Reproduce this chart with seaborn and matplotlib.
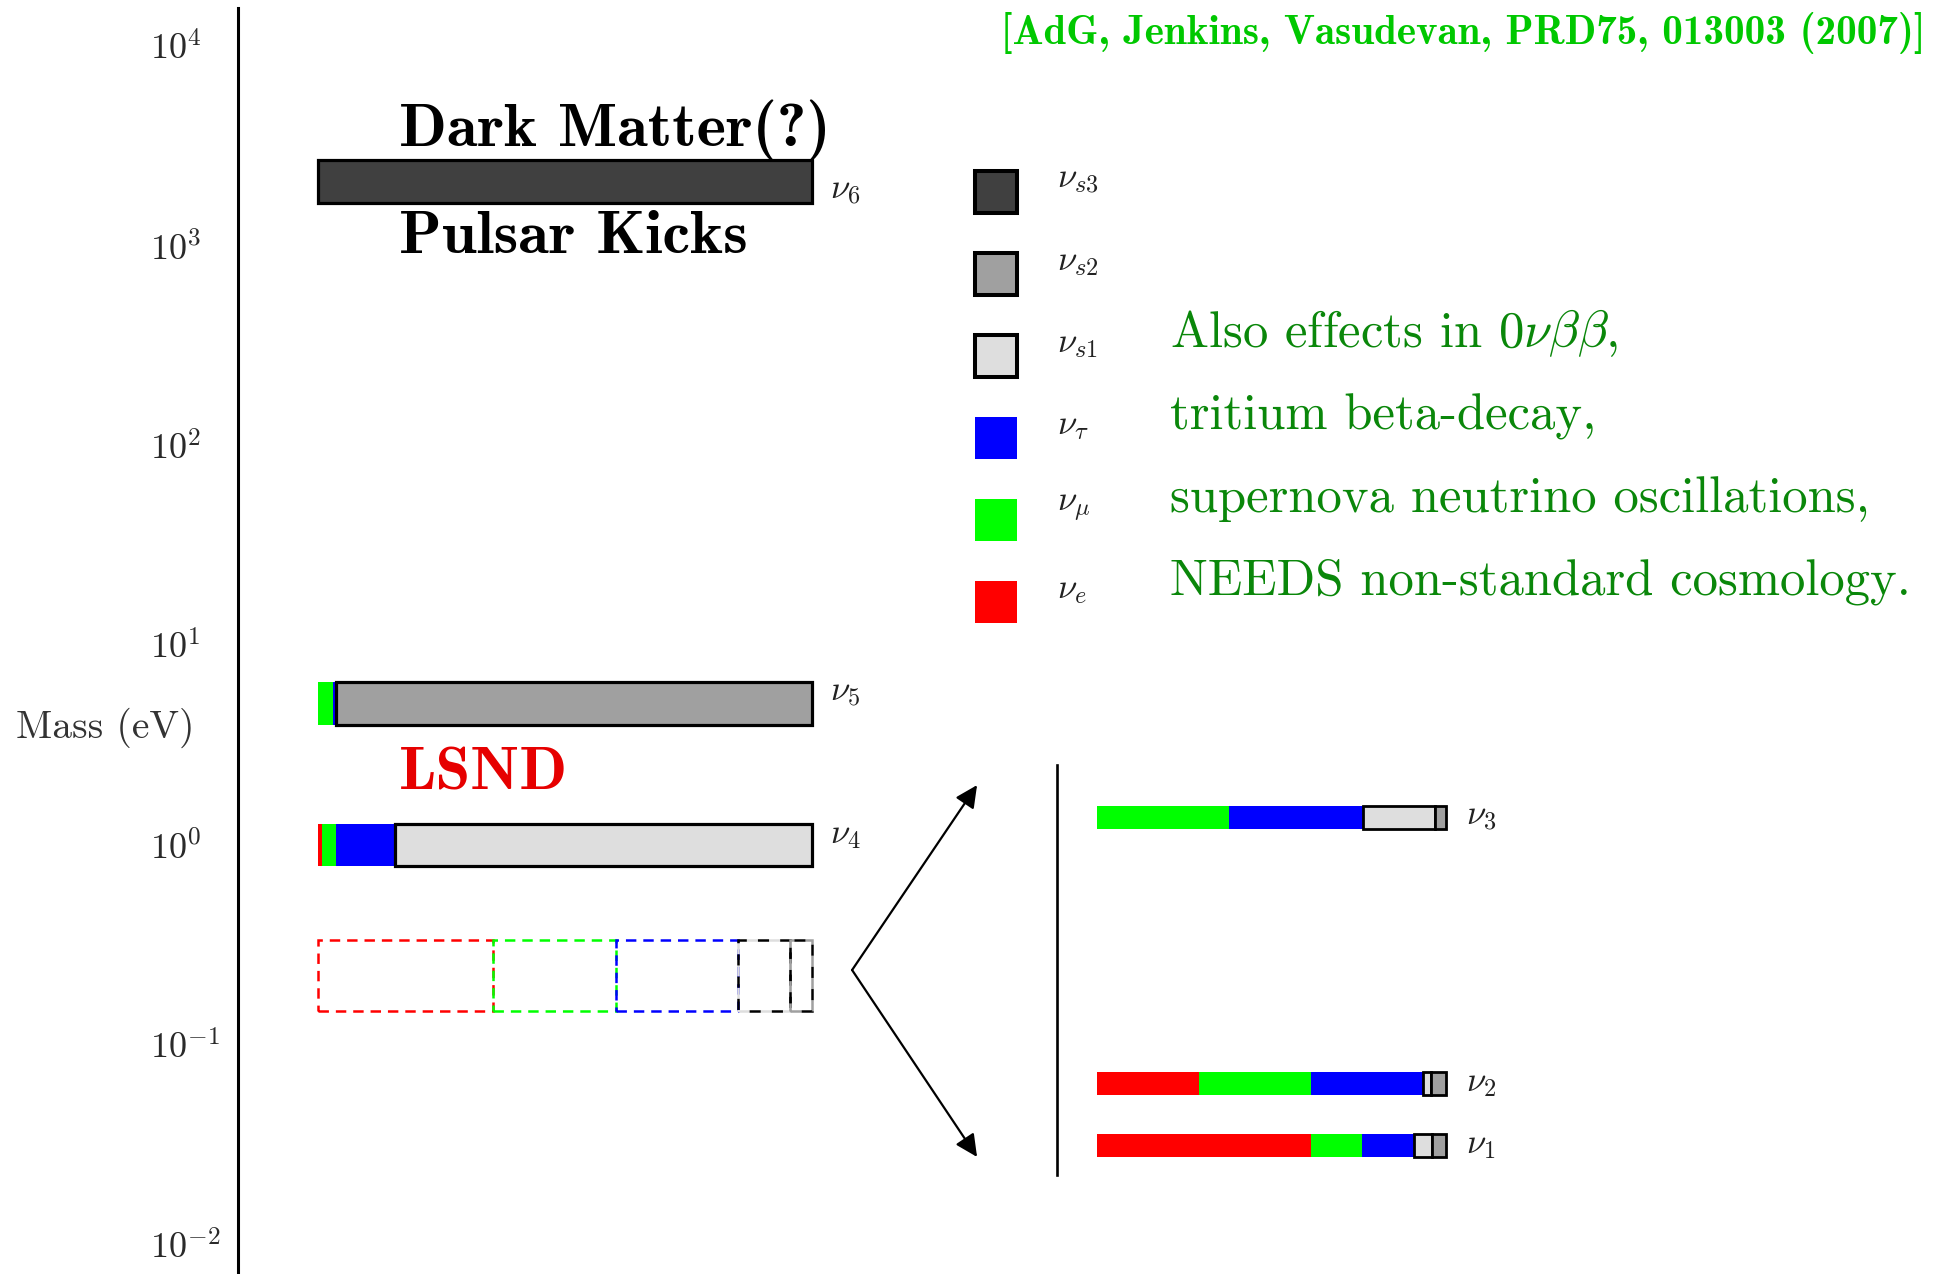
import numpy as np
import matplotlib
matplotlib.use("Agg")
import matplotlib.pyplot as plt
import seaborn as sns
from matplotlib.patches import Rectangle
from matplotlib.ticker import NullLocator

# ---------------- data ----------------
flavours = ["e", "mu", "tau", "s1", "s2", "s3"]
flavour_labels = [r"$\nu_e$", r"$\nu_\mu$", r"$\nu_\tau$", r"$\nu_{s1}$", r"$\nu_{s2}$", r"$\nu_{s3}$"]
flavour_colors = ["#ff0000", "#00ff00", "#0000ff", "#dedede", "#a0a0a0", "#404040"]

heavy_states = [r"$\nu_6$", r"$\nu_5$", r"$\nu_4$"]
heavy_mass_ev = [2100.0, 5.1, 1.0]
nu6_content = [0.0, 0.0, 0.0, 0.0, 0.0, 1.0]
nu5_content = [0.0, 0.030, 0.007, 0.0, 0.963, 0.0]
nu4_content = [0.008, 0.029, 0.118, 0.845, 0.0, 0.0]

light_group_mass_ev = 0.222
light_group_content = [0.355, 0.249, 0.247, 0.105, 0.044, 0.0]

light_states = [r"$\nu_1$", r"$\nu_2$", r"$\nu_3$"]
light_levels = [0.0, 1.0, 5.25]          # schematic mass-squared ordering
nu1_content = [0.613, 0.146, 0.148, 0.052, 0.041, 0.0]
nu2_content = [0.293, 0.321, 0.321, 0.021, 0.044, 0.0]
nu3_content = [0.0, 0.379, 0.383, 0.207, 0.031, 0.0]

tick_exponents = [-2, -1, 0, 1, 2, 3, 4]

notes = ["Also effects in $0\\nu\\beta\\beta$,", "tritium beta-decay,",
         "supernova neutrino oscillations,", "NEEDS non-standard cosmology."]
citation = "[AdG, Jenkins, Vasudevan, PRD75, 013003 (2007)]"

# ---------------- style ----------------
sns.set_theme(style="white")
plt.rcParams["font.family"] = ["cmr10", "DejaVu Sans"]
plt.rcParams["mathtext.fontset"] = "cm"
plt.rcParams["axes.formatter.use_mathtext"] = True
plt.rcParams["lines.scale_dashes"] = False

W, H = 1935, 1274
fig = plt.figure(figsize=(W / 100, H / 100), dpi=100)
fig.patch.set_facecolor("white")

def fx(px):
    return px / W

def fy(py):
    return 1 - py / H

# ---------------- main axis ----------------
ax = fig.add_axes([fx(238), 0, 1 - fx(238), 1])
ax.set_facecolor("white")
ax.set_yscale("log")
ax.set_ylim(10 ** -2.148, 10 ** 4.231)
ax.set_xlim(-0.162, 3.273)
for s in ["top", "right", "bottom"]:
    ax.spines[s].set_visible(False)
ax.spines["left"].set_linewidth(2.2)
ax.spines["left"].set_color("black")
ax.spines["left"].set_bounds(10 ** -2.148, 10 ** 4.19)
ax.set_xticks([])
ax.set_yticks(10.0 ** np.array(tick_exponents))
ax.set_yticklabels([r"$10^{%d}$" % e for e in tick_exponents])
ax.yaxis.set_minor_locator(NullLocator())
ax.tick_params(axis="y", length=0, pad=63.4, labelsize=26, labelcolor="#2a2a2a")
for t in ax.get_yticklabels():
    t.set_horizontalalignment("left")
ax.set_ylabel("Mass (eV)", rotation=0, fontsize=28.5, color="#333333")
ax.yaxis.set_label_coords((105 - 238) / (W - 238), 1 - 728 / H)
ax.yaxis.label.set_horizontalalignment("center")
ax.yaxis.label.set_verticalalignment("center")
ax.grid(False)

HALF = 0.107  # half bar thickness, in decades


def stacked_bar(axis, y_lo, y_hi, content, edge_lw):
    left = 0.0
    for frac, col, fl in zip(content, flavour_colors, flavours):
        if frac > 0:
            sterile = fl.startswith("s")
            axis.barh(y_lo, frac, height=y_hi - y_lo, left=left, align="edge",
                      color=col, edgecolor="black" if sterile else col,
                      linewidth=edge_lw if sterile else 0,
                      zorder=3 if sterile else 2)
        left += frac


heavy_contents = [nu6_content, nu5_content, nu4_content]
label_offsets = [-0.05, 0.055, 0.05]
for name, m, cont, off in zip(heavy_states, heavy_mass_ev, heavy_contents, label_offsets):
    stacked_bar(ax, m * 10 ** -HALF, m * 10 ** HALF, cont, 2.3)
    ax.text(1.036, m * 10 ** off, name, fontsize=25, color="#222222",
            ha="left", va="center")

# dashed group of light states
lo = light_group_mass_ev * 10 ** -0.178
hi = light_group_mass_ev * 10 ** 0.178
left = 0.0
for frac, col, fl in zip(light_group_content, flavour_colors, flavours):
    if frac > 0:
        if fl.startswith("s"):
            ax.barh(lo, frac, height=hi - lo, left=left, align="edge", fill=False,
                    edgecolor=col, linewidth=1.8, linestyle=(0, (8, 8)), zorder=3)
            ax.barh(lo, frac, height=hi - lo, left=left, align="edge", fill=False,
                    edgecolor="black", linewidth=1.8, linestyle=(8, (8, 8)), zorder=3)
        else:
            ax.barh(lo, frac, height=hi - lo, left=left, align="edge", fill=False,
                    edgecolor=col, linewidth=1.8, linestyle=(0, (7.5, 5)), zorder=3)
    left += frac

# annotations
ax.text(0.164, 10 ** 3.50, "Dark Matter(?)", fontfamily="cmb10", fontsize=45,
        color="black", ha="left", va="baseline")
ax.text(0.164, 10 ** 2.964, "Pulsar Kicks", fontfamily="cmb10", fontsize=45,
        color="black", ha="left", va="baseline")
ax.text(0.164, 10 ** 0.280, "LSND", fontfamily="cmb10", fontsize=45,
        color="#e60000", ha="left", va="baseline")

# arrows to the zoomed view
vertex = (1.081, 10 ** -0.626)
for tip in [(1.334, 10 ** 0.300), (1.334, 10 ** -1.562)]:
    ax.annotate("", xy=tip, xytext=vertex,
                arrowprops=dict(arrowstyle="-|>,head_length=0.45,head_width=0.22",
                                lw=1.6, color="black", mutation_scale=30,
                                shrinkA=0, shrinkB=0))

# ---------------- zoomed light states ----------------
axi = fig.add_axes([fx(1057), fy(1175), 1 - fx(1057), (1175 - 765) / H])
axi.set_facecolor("none")
axi.set_xlim(-0.1146, 2.401)
axi.set_ylim(-0.472, 6.088)
for s in ["top", "right", "bottom"]:
    axi.spines[s].set_visible(False)
axi.spines["left"].set_linewidth(1.9)
axi.spines["left"].set_color("black")
axi.set_xticks([])
axi.set_yticks([])
axi.grid(False)

light_contents = [nu1_content, nu2_content, nu3_content]
for name, lev, cont in zip(light_states, light_levels, light_contents):
    stacked_bar(axi, lev - 0.184, lev + 0.184, cont, 2.0)
    axi.text(1.057, lev, name, fontsize=25, color="#222222", ha="left", va="center")

# ---------------- legend (flavour key) ----------------
key_order = [5, 4, 3, 2, 1, 0]
key_centers_px = [192, 274, 356, 438, 520, 602]
for idx, cy in zip(key_order, key_centers_px):
    sterile = flavours[idx].startswith("s")
    fig.add_artist(Rectangle((fx(975), fy(cy + 21)), 42 / W, 42 / H,
                             transform=fig.transFigure,
                             facecolor=flavour_colors[idx],
                             edgecolor="black" if sterile else flavour_colors[idx],
                             linewidth=2.9 if sterile else 0))
    fig.text(fx(1057), fy(cy - 12), flavour_labels[idx], fontsize=25,
             color="#222222", ha="left", va="center")

# ---------------- notes ----------------
for line, base in zip(notes, [347, 429.5, 512, 594.5]):
    fig.text(fx(1170), fy(base), line, fontsize=36.5, color="#0a870a",
             ha="left", va="baseline")

fig.text(fx(1925), fy(33), citation, fontfamily="cmb10", fontsize=29.6,
         color="#00c800", ha="right", va="center")

fig.savefig("out.png", dpi=100, facecolor="white")
